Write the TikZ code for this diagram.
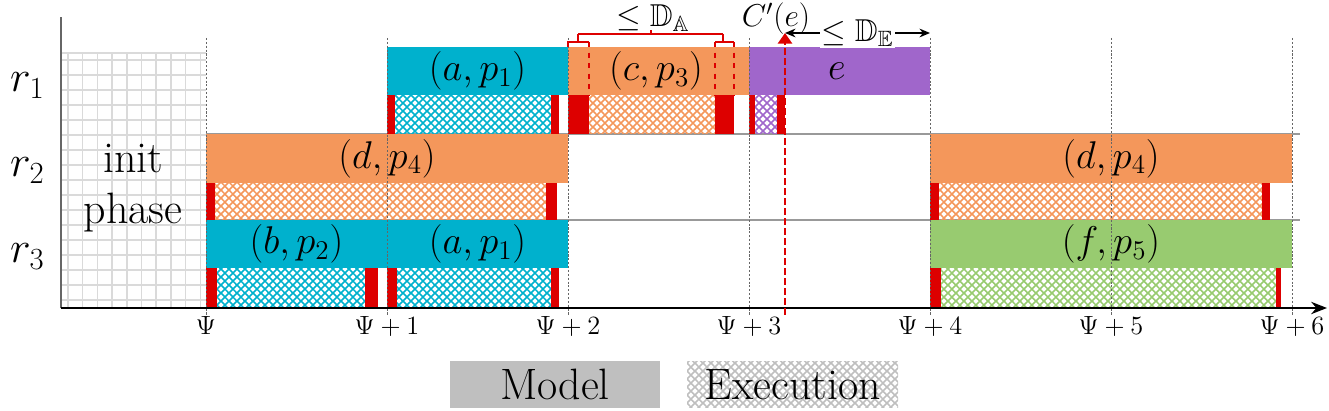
\RequirePackage{fix-cm}
\documentclass[tikz,border=0pt]{standalone}
\usepackage{amssymb}
\usetikzlibrary{patterns.meta,arrows.meta,positioning}

\definecolor{jobteal}{HTML}{00B1CD}
\definecolor{joborange}{HTML}{F4975B}
\definecolor{jobpurple}{HTML}{A066CB}
\definecolor{jobgreen}{HTML}{98CB70}
\definecolor{jobred}{HTML}{DD0000}
\definecolor{legendgray}{HTML}{BFBFBF}
\definecolor{gridgray}{HTML}{DADADA}

\tikzdeclarepattern{
  name=xhatch, type=uncolored,
  bottom left={(0pt,0pt)}, top right={(4.5pt,4.5pt)},
  tile size={(4.5pt,4.5pt)},
  code={\draw[line width=0.9pt] (0pt,0pt) -- (4.5pt,4.5pt) (0pt,4.5pt) -- (4.5pt,0pt);}
}

\tikzset{
  model/.style={fill=#1},
  exec/.style={pattern=xhatch, pattern color=#1},
  cut/.style={fill=jobred},
  gridline/.style={draw=gridgray, line width=0.8pt},
  rowline/.style={draw=black!40, line width=0.6pt},
  tickline/.style={draw=black!60, line width=0.5pt, dash pattern=on 1.2pt off 1pt},
  bigtext/.style={font=\rmfamily\fontsize{25}{29}\selectfont},
  jobtext/.style={font=\fontsize{22}{26}\selectfont},
  boundtext/.style={font=\fontsize{18}{22}\selectfont, inner sep=1pt},
  ticktext/.style={font=\fontsize{15}{18}\selectfont},
  bound/.style={draw=jobred, line width=0.6pt},
  legendbox/.style={minimum width=4.22cm, minimum height=0.94cm, inner sep=0pt, bigtext}
}

\begin{document}
\begin{tikzpicture}[x=0.02cm,y=-0.02cm,>={Stealth[length=6pt,width=5pt]}]
  \useasboundingbox (0,0) rectangle (1329,411);

  % init phase
  \foreach \i in {0,...,9}
    \draw[gridline] ({68+14.7*\i},53) -- ({68+14.7*\i},308);
  \foreach \i in {0,...,16}
    \draw[gridline] (61,{60+15*\i}) -- (206,{60+15*\i});
  \draw[gridline] (61,53) -- (206,53);
  \node[bigtext, align=center] (init) at (133,188) {init\\phase};

  % rows
  \draw[rowline] (206,134) -- (1300,134);
  \draw[rowline] (206,220) -- (1300,220);
  \node[bigtext, anchor=base west] (r1) at (4,92) {$r_1$};
  \node[bigtext, anchor=base west] (r2) at (4,177) {$r_2$};
  \node[bigtext, anchor=base west] (r3) at (4,263) {$r_3$};

  % r1
  \fill[model=jobteal] (387,47) rectangle (568,95);
  \node[jobtext] (ap1top) at (477.5,71) {$(a,p_1)$};
  \fill[cut] (387,95) rectangle (395,134);
  \fill[exec=jobteal] (395,95) rectangle (551,134);
  \fill[cut] (551,95) rectangle (559,134);

  \fill[model=joborange] (568,47) rectangle (749,95);
  \node[jobtext] (cp3) at (656,71) {$(c,p_3)$};
  \fill[cut] (568,95) rectangle (589,134);
  \fill[exec=joborange] (589,95) rectangle (715,134);
  \fill[cut] (715,95) rectangle (734,134);

  \fill[model=jobpurple] (749,47) rectangle (930,95);
  \node[jobtext] (e) at (837,71) {$e$};
  \fill[cut] (749,95) rectangle (755,134);
  \fill[exec=jobpurple] (755,95) rectangle (777,134);
  \fill[cut] (777,95) rectangle (785,134);

  % r2
  \fill[model=joborange] (206,134) rectangle (568,183);
  \node[jobtext] (dp4left) at (387,158.5) {$(d,p_4)$};
  \fill[cut] (206,183) rectangle (215,220);
  \fill[exec=joborange] (215,183) rectangle (546,220);
  \fill[cut] (546,183) rectangle (557,220);

  \fill[model=joborange] (930,134) rectangle (1292,183);
  \node[jobtext] (dp4right) at (1111,158.5) {$(d,p_4)$};
  \fill[cut] (930,183) rectangle (939,220);
  \fill[exec=joborange] (939,183) rectangle (1262,220);
  \fill[cut] (1262,183) rectangle (1270,220);

  % r3
  \fill[model=jobteal] (206,220) rectangle (387,268);
  \node[jobtext] (bp2) at (296.5,244) {$(b,p_2)$};
  \fill[cut] (206,268) rectangle (217,308);
  \fill[exec=jobteal] (217,268) rectangle (365,308);
  \fill[cut] (365,268) rectangle (378,308);

  \fill[model=jobteal] (387,220) rectangle (568,268);
  \node[jobtext] (ap1bottom) at (477.5,244) {$(a,p_1)$};
  \fill[cut] (387,268) rectangle (397,308);
  \fill[exec=jobteal] (397,268) rectangle (551,308);
  \fill[cut] (551,268) rectangle (559,308);

  \fill[model=jobgreen] (930,220) rectangle (1292,268);
  \node[jobtext] (fp5) at (1111,244) {$(f,p_5)$};
  \fill[cut] (930,268) rectangle (941,308);
  \fill[exec=jobgreen] (941,268) rectangle (1276,308);
  \fill[cut] (1276,268) rectangle (1281,308);

  % time axis
  \foreach \t/\lab [count=\i] in {206/{\Psi},387/{\Psi+1},568/{\Psi+2},749/{\Psi+3},930/{\Psi+4},1111/{\Psi+5},1292/{\Psi+6}}{
    \draw[tickline] (\t,38) -- (\t,315);
    \node[ticktext, anchor=base] (tick\i) at (\t,335) {$\lab$};
  }
  \coordinate (origin) at (61,308);
  \coordinate (tend) at (1327,308);
  \coordinate (ytop) at (61,17);
  \draw[black!60, line width=1.2pt] (origin) -- (ytop);
  \draw[line width=1.2pt, -{Stealth[length=9pt,width=7pt]}] (origin) -- (tend);

  % bound on the model part
  \coordinate (bl) at (578,34);
  \coordinate (br) at (723,34);
  \draw[bound] (bl) -- (br);
  \draw[bound] (651,34) -- (651,30);
  \draw[bound] (bl) -- (578,42);
  \draw[bound] (br) -- (723,42);
  \draw[bound] (568,47) -- (568,42) -- (589,42);
  \draw[bound] (715,42) -- (734,42);
  \draw[bound, dashed] (589,42) -- (589,95);
  \draw[bound, dashed] (715,42) -- (715,95);
  \draw[bound, dashed] (734,42) -- (734,95);
  \node[boundtext, anchor=base] (DA) at (653,27) {$\leq \mathbb{D}_{\mathbb{A}}$};

  % C'(e)
  \coordinate (cebottom) at (785,315);
  \coordinate (cetop) at (785,33);
  \draw[jobred, line width=1.2pt, dash pattern=on 4pt off 1.7pt, -{Triangle[length=6pt,width=8pt]}] (cebottom) -- (cetop);
  \node[boundtext, anchor=base] (ce) at (776,27) {$C'(e)$};
  \coordinate (deleft) at (785,33);
  \coordinate (deright) at (930,33);
  \draw[<->, line width=0.8pt] (deleft) -- node[boundtext, fill=white] (DE) {$\leq \mathbb{D}_{\mathbb{E}}$} (deright);

  % legend
  \node[legendbox, fill=legendgray] (legmodel) at (555,384.5) {Model};
  \node[legendbox, exec=legendgray, right=0.52cm of legmodel] (legexec) {Execution};
\end{tikzpicture}
\end{document}
